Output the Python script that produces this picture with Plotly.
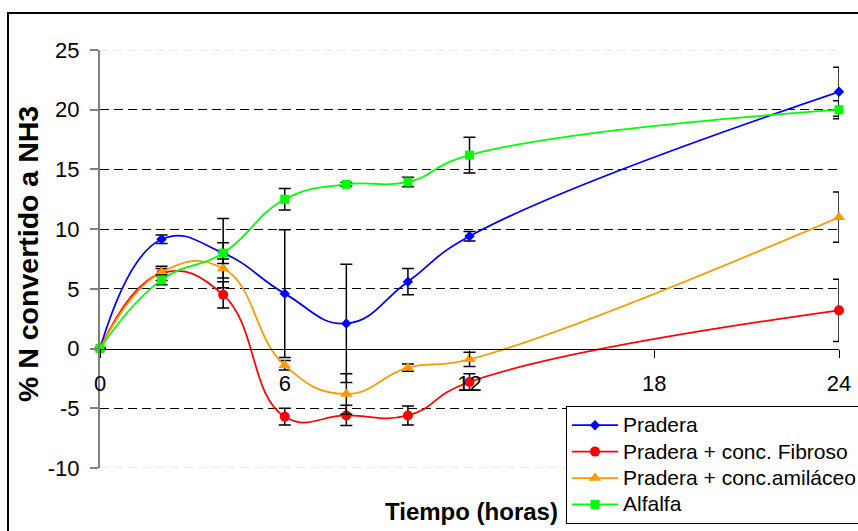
import plotly.graph_objects as go

# Sampling times (hours)
tiempo = [0, 2, 4, 6, 8, 10, 12, 24]

# % of N converted to NH3, with standard errors
pradera = [0, 9.15, 8.0, 4.6, 2.1, 5.6, 9.4, 21.5]
pradera_err = [0, 0.35, 2.9, 5.35, 4.95, 1.1, 0.4, 2.05]

fibroso = [0, 6.3, 4.5, -5.7, -5.6, -5.6, -2.8, 3.2]
fibroso_err = [0, 0.6, 1.1, 0.7, 0.85, 0.8, 0.7, 2.6]

amilaceo = [0, 6.4, 6.7, -1.4, -3.8, -1.6, -0.9, 11.0]
amilaceo_err = [0, 0.3, 0.8, 0.4, 1.7, 0.3, 0.6, 2.1]

alfalfa = [0, 5.75, 8.0, 12.5, 13.75, 13.95, 16.2, 20.0]
alfalfa_err = [0, 0.4, 0.87, 0.9, 0.15, 0.4, 1.5, 0.75]

series_names = ["Pradera", "Pradera + conc. Fibroso",
                "Pradera + conc.amiláceo", "Alfalfa"]
x_ticks = [0, 6, 12, 18, 24]
y_ticks = [-10, -5, 0, 5, 10, 15, 20, 25]
y_grid = [-5, 5, 10, 15, 20]
y_range = [-10, 25]
x_range = [0, 24]

FONT = "Arial, Liberation Sans, sans-serif"

# plot-area geometry in pixels
W, H = 858, 531
L, R, T, B = 100, 19, 50, 63
PW, PH = W - L - R, H - T - B


def px_x(px):
    return (px - L) / PW


def px_y(py):
    return (H - B - py) / PH


styles = [
    dict(color="#0000FF", symbol="diamond", size=8),
    dict(color="#FF0000", symbol="circle", size=10),
    dict(color="#FF9900", symbol="triangle-up", size=11),
    dict(color="#00FF00", symbol="square", size=9),
]
values = [pradera, fibroso, amilaceo, alfalfa]
errors = [pradera_err, fibroso_err, amilaceo_err, alfalfa_err]

fig = go.Figure()
for name, vals, errs, st in zip(series_names, values, errors, styles):
    fig.add_trace(go.Scatter(
        x=tiempo, y=vals,
        name="<span style='font-size:21px'>%s</span>" % name,
        mode="lines+markers",
        line=dict(color=st["color"], width=1.75, shape="spline", smoothing=1.3),
        marker=dict(color=st["color"], symbol=st["symbol"], size=st["size"],
                    line=dict(width=0)),
        error_y=dict(type="data", array=errs, visible=True,
                     color="black", thickness=1.5, width=6),
        cliponaxis=False,
    ))

# position of the horizontal axis so it crosses at y = 0
x_axis_pos = (0 - y_range[0]) / (y_range[1] - y_range[0])

fig.update_layout(
    width=W, height=H,
    margin=dict(l=L, r=R, t=T, b=B, autoexpand=False),
    paper_bgcolor="white", plot_bgcolor="white",
    font=dict(family=FONT, color="black"),
    showlegend=True,
    legend=dict(
        x=px_x(566), y=px_y(406),
        xanchor="left", yanchor="top",
        bgcolor="white", bordercolor="black", borderwidth=1,
        font=dict(family=FONT, size=18, color="black"),
        itemwidth=46, tracegroupgap=0,
    ),
    xaxis=dict(
        range=x_range, tickvals=x_ticks, ticktext=[str(v) for v in x_ticks],
        anchor="free", position=x_axis_pos,
        showline=True, linecolor="black", linewidth=1,
        ticks="outside", ticklen=8, tickcolor="black", tickwidth=1,
        showgrid=False, zeroline=False,
        tickfont=dict(family=FONT, size=22, color="black"),
        ticklabelstandoff=7,
    ),
    yaxis=dict(
        range=y_range, tickvals=y_ticks, ticktext=[str(v) for v in y_ticks],
        showline=True, linecolor="#808080", linewidth=2,
        ticks="outside", ticklen=8, tickcolor="#808080", tickwidth=1.5,
        showgrid=False, zeroline=False,
        minor=dict(tickmode="array", tickvals=y_grid, showgrid=True,
                   gridcolor="black", griddash="9px,5px", gridwidth=1,
                   ticks=""),
        tickfont=dict(family=FONT, size=22, color="black"),
        ticklabelstandoff=6,
    ),
)

# faint dashed lines at the top and bottom of the value range
for yv in y_range:
    fig.add_shape(type="line", xref="x", yref="y", x0=x_range[0], x1=x_range[1],
                  y0=yv, y1=yv, layer="below",
                  line=dict(color="#d9d9d9", width=1, dash="9px,5px"))

# outer chart frame
fig.add_shape(type="rect", xref="paper", yref="paper",
              x0=px_x(8), x1=px_x(W + 40), y0=px_y(H + 40), y1=px_y(13),
              line=dict(color="black", width=2), fillcolor="rgba(0,0,0,0)")

fig.add_annotation(text="<b>Tiempo (horas)</b>", xref="paper", yref="paper",
                   x=px_x(471), y=px_y(512),
                   xanchor="center", yanchor="middle", showarrow=False,
                   font=dict(family=FONT, size=24, color="black"))
fig.add_annotation(text="<b>% N convertido a NH3</b>", xref="paper", yref="paper",
                   x=px_x(28), y=px_y(254), textangle=-90,
                   xanchor="center", yanchor="middle", showarrow=False,
                   font=dict(family=FONT, size=28.5, color="black"))

fig.write_html("out.html")
